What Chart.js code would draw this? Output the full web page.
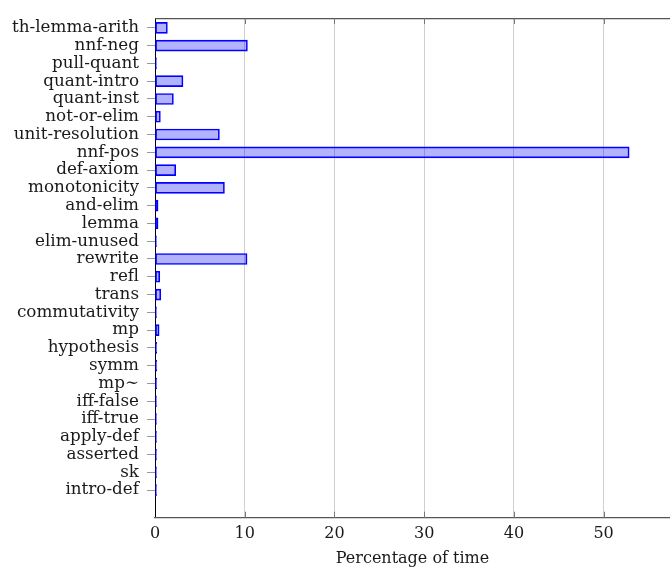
<!DOCTYPE html>
<html>
<head>
<meta charset="utf-8">
<script src="https://cdn.jsdelivr.net/npm/chart.js@4.4.1/dist/chart.umd.min.js"></script>
<style>
  html, body { margin: 0; padding: 0; background: #fff; }
  #wrap { width: 670px; height: 571px; position: relative; }
</style>
</head>
<body>
<div id="wrap"><canvas id="c" width="670" height="571"></canvas></div>
<script>
const categories = [
  'th-lemma-arith', 'nnf-neg', 'pull-quant', 'quant-intro', 'quant-inst',
  'not-or-elim', 'unit-resolution', 'nnf-pos', 'def-axiom', 'monotonicity',
  'and-elim', 'lemma', 'elim-unused', 'rewrite', 'refl', 'trans',
  'commutativity', 'mp', 'hypothesis', 'symm', 'mp\u223C', 'iff-false',
  'iff-true', 'apply-def', 'asserted', 'sk', 'intro-def'
];
const timePct = [
  1.38, 10.3, 0.1, 3.12, 2.05,
  0.6, 7.18, 52.85, 2.31, 7.74,
  0.34, 0.34, 0.1, 10.26, 0.53, 0.65,
  0.08, 0.46, 0.2, 0.2, 0.2, 0.1,
  0.08, 0.08, 0.1, 0.08, 0.08
];
const xTickValues = [0, 10, 20, 30, 40, 50];
const xAxisTitle = 'Percentage of time';

const FONT = 'DejaVu Serif';
const points = categories.map((c, i) => ({ x: timePct[i], y: i }));

const innerTicks = {
  id: 'innerTicks',
  afterDraw(chart) {
    const { ctx, chartArea: a, scales: { x } } = chart;
    ctx.save();
    ctx.strokeStyle = '#555';
    ctx.lineWidth = 1.2;
    ctx.beginPath();
    ctx.moveTo(a.left, a.top + 0.5);
    ctx.lineTo(a.right, a.top + 0.5);
    ctx.stroke();
    ctx.strokeStyle = '#777';
    ctx.lineWidth = 1;
    xTickValues.forEach(v => {
      if (v === 0) return;
      const px = Math.round(x.getPixelForValue(v)) + 0.5;
      ctx.beginPath();
      ctx.moveTo(px, a.bottom);
      ctx.lineTo(px, a.bottom - 6);
      ctx.moveTo(px, a.top);
      ctx.lineTo(px, a.top + 6);
      ctx.stroke();
    });
    ctx.restore();
  }
};

new Chart(document.getElementById('c'), {
  type: 'bar',
  data: {
    datasets: [{
      data: points,
      backgroundColor: 'rgba(0,0,255,0.3)',
      borderColor: '#0000ff',
      borderWidth: 1,
      barThickness: 11,
      minBarLength: 1.5,
      borderSkipped: false
    }]
  },
  options: {
    indexAxis: 'y',
    responsive: false,
    animation: false,
    devicePixelRatio: 1,
    layout: { padding: { top: 8, right: 0, bottom: 0, left: 0 } },
    plugins: { legend: { display: false }, tooltip: { enabled: false } },
    scales: {
      y: {
        type: 'linear',
        reverse: true,
        offset: false,
        min: -0.55,
        max: 27.55,
        afterBuildTicks: (axis) => { axis.ticks = categories.map((_, i) => ({ value: i })); },
        afterFit: (scale) => { scale.width = 155; },
        ticks: {
          callback: (v) => categories[v],
          autoSkip: false,
          padding: 8,
          color: '#1a1a1a',
          font: { family: FONT, size: 16.8 }
        },
        grid: {
          offset: false,
          drawOnChartArea: false,
          drawTicks: true,
          tickLength: 8,
          color: '#9a9a9a',
          lineWidth: 1
        },
        border: { color: '#000', width: 1 }
      },
      x: {
        type: 'linear',
        min: 0,
        max: 57.4,
        afterBuildTicks: (axis) => { axis.ticks = xTickValues.map(v => ({ value: v })); },
        afterFit: (scale) => { scale.height = 53.3; },
        ticks: {
          padding: 7,
          color: '#1a1a1a',
          font: { family: FONT, size: 16 }
        },
        grid: {
          drawTicks: false,
          color: '#cfcfcf',
          lineWidth: 1
        },
        border: { color: '#555', width: 1.2 },
        title: {
          display: true,
          text: xAxisTitle,
          color: '#1a1a1a',
          font: { family: FONT, size: 16 },
          padding: { top: 0, bottom: 3 }
        }
      }
    }
  },
  plugins: [innerTicks]
});
</script>
</body>
</html>
